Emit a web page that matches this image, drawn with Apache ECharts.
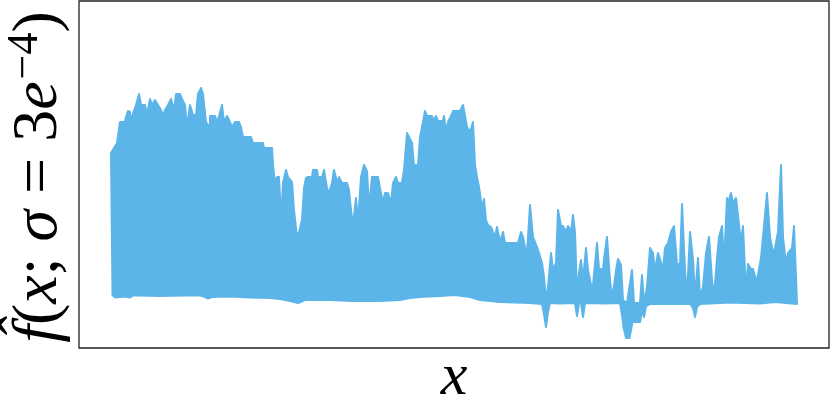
<!DOCTYPE html>
<html>
<head>
<meta charset="utf-8">
<script src="https://cdn.jsdelivr.net/npm/echarts@6/dist/echarts.min.js"></script>
<style>
  html, body { margin: 0; padding: 0; background: #fff; }
  #chart { width: 830px; height: 406px; }
</style>
</head>
<body>
<div id="chart"></div>
<script>
// Upper envelope of the oscillating estimate: sample position and value
var upperX = [0,3,6,9,14,15,17,19,20,21,25,28,30,34,36,39,41,44,47,50,52,54,57,60,63,65,69,71,74,76,79,82,85,87,90,92,95,97,98,99,104,106,108,111,113,116,119,121,124,128,130,132,140,142,152,153,161,162,164,166,168,170,172,175,177,181,183,186,188,191,193,195,197,201,202,206,207,211,213,216,218,221,223,226,228,231,236,238,240,242,245,247,250,253,256,258,261,267,269,272,274,277,280,282,285,287,291,293,296,298,301,303,307,309,312,314,316,321,322,325,327,332,333,335,337,340,342,349,352,354,356,359,362,364,366,368,371,373,375,377,380,382,384,386,389,392,394,407,410,412,414,416,419,422,424,426,428,431,433,435,437,440,442,445,447,450,452,455,457,460,462,464,466,468,470,472,475,477,480,482,486,488,492,493,496,499,501,503,505,507,510,512,516,521,523,529,531,533,536,539,542,544,547,549,552,554,557,560,563,566,569,571,574,576,579,582,584,587,589,592,595,598,601,603,606,608,611,613,616,617,620,622,625,627,630,632,635,637,640,642,645,647,650,653,656,659,662,664,667,670,672,675,677,681,683,686];
var upperY = [1.95,2.00,2.05,2.26,2.26,2.31,2.37,2.36,1.89,2.32,2.43,2.54,2.43,2.43,2.33,2.49,2.43,2.48,2.43,2.38,2.33,2.38,2.43,2.49,2.38,2.54,2.54,2.49,2.43,2.21,2.43,2.33,2.33,2.54,2.60,2.54,2.26,2.23,1.66,2.32,2.32,2.26,2.32,2.43,2.26,2.32,2.26,2.21,2.26,2.26,2.21,2.11,2.11,2.05,2.05,2.00,2.00,1.83,1.66,1.71,1.71,1.28,1.65,1.78,1.71,1.66,1.38,1.11,1.16,1.28,1.60,1.70,1.71,1.71,1.78,1.78,1.71,1.71,1.78,1.60,1.55,1.65,1.78,1.66,1.71,1.65,1.65,1.58,1.38,1.23,1.50,1.25,1.71,1.83,1.77,1.40,1.71,1.71,1.60,1.45,1.55,1.55,1.45,1.65,1.71,1.65,1.65,1.78,2.15,2.11,2.05,1.83,1.83,2.11,2.26,2.37,2.32,2.32,2.27,2.32,2.27,2.27,2.32,2.16,2.26,2.32,2.37,2.37,2.43,2.32,2.21,2.16,2.26,1.83,1.71,1.61,1.40,1.49,1.28,1.23,1.21,1.16,1.11,1.21,1.06,1.16,1.05,1.05,1.16,1.11,1.01,0.95,1.43,1.11,1.06,1.01,0.95,0.85,0.71,0.48,0.61,0.95,0.78,0.85,1.38,1.22,1.22,1.16,1.22,1.16,1.33,1.16,0.55,0.75,0.88,0.68,1.00,0.78,0.63,0.63,1.05,0.79,0.79,0.89,1.11,0.68,0.51,0.62,0.78,0.89,0.83,0.48,0.45,0.78,0.45,0.45,0.73,0.45,0.61,1.00,0.95,0.78,0.95,0.89,0.79,1.00,1.05,1.16,1.22,0.84,0.84,1.44,0.78,0.51,1.16,0.89,0.51,0.90,0.51,0.61,0.95,1.11,0.68,0.51,0.90,1.11,1.22,0.84,1.50,1.45,1.55,1.45,1.50,1.33,1.05,1.22,0.56,0.84,0.79,0.79,0.68,0.73,0.90,1.22,1.55,1.11,0.95,1.00,1.16,1.83,1.11,0.84,0.95,1.00,1.22,0.45];
// Lower envelope of the oscillating estimate
var lowerX = [1.5,4,9,14,19,22,29,49,74,89,94,97,101,119,139,159,169,179,187,194,219,241,269,289,299,309,329,344,359,369,389,419,431,433,435,437,439,449,464,466,468,470,472,474,494,509,511,512.5,515,518.5,520,521.5,529,531,533,535,539,579,582,584,586,589,619,649,664,686];
var lowerY = [0.53,0.505,0.51,0.515,0.505,0.525,0.525,0.52,0.525,0.525,0.51,0.495,0.51,0.515,0.505,0.50,0.49,0.47,0.45,0.48,0.48,0.47,0.47,0.48,0.50,0.51,0.52,0.53,0.51,0.48,0.46,0.45,0.44,0.34,0.21,0.36,0.45,0.445,0.45,0.32,0.45,0.45,0.31,0.45,0.445,0.45,0.33,0.21,0.10,0.10,0.18,0.26,0.26,0.38,0.31,0.42,0.44,0.44,0.40,0.31,0.41,0.44,0.455,0.445,0.46,0.44];
var xTitle = 'x';
var yTitle = '{m|f\u0302}{n|(}{m|x}{n|; }{m|σ}{n| = 3}{m|e}{s|\u22124}{n|)}';

var xMin = -32, xMax = 718, yMin = 0, yMax = 3.47;
var bandColor = '#5cb5e9';

var chart = echarts.init(document.getElementById('chart'), null, {renderer: 'canvas'});

var option = {
  animation: false,
  backgroundColor: '#fff',
  grid: {
    left: 79, right: 1, top: 1, bottom: 58,
    containLabel: false, outerBoundsMode: 'none',
    show: true, borderColor: '#222', borderWidth: 1.3, backgroundColor: 'transparent'
  },
  xAxis: {
    type: 'value', min: xMin, max: xMax,
    axisLine: {show: false}, axisTick: {show: false}, axisLabel: {show: false}, splitLine: {show: false}
  },
  yAxis: {
    type: 'value', min: yMin, max: yMax,
    axisLine: {show: false}, axisTick: {show: false}, axisLabel: {show: false}, splitLine: {show: false}
  },
  graphic: [
    {
      type: 'text', x: 454, y: 378,
      style: {text: xTitle, fontFamily: 'Liberation Serif', fontStyle: 'italic', fontSize: 60, fill: '#000',
              align: 'center', verticalAlign: 'middle'}
    },
    {
      type: 'text', x: 39, y: 177, rotation: Math.PI / 2,
      style: {
        text: yTitle, fontFamily: 'Liberation Serif', fontSize: 64, fill: '#000',
        align: 'center', verticalAlign: 'middle',
        rich: {
          m: {fontFamily: 'Liberation Serif', fontStyle: 'italic', fontSize: 64, fill: '#000'},
          n: {fontFamily: 'Liberation Serif', fontSize: 64, fill: '#000'},
          s: {fontFamily: 'Liberation Serif', fontSize: 44, fill: '#000', padding: [0, 0, 28, 2]}
        }
      }
    }
  ],
  series: [{
    type: 'custom',
    coordinateSystem: 'cartesian2d',
    data: [[0, 0]],
    clip: true,
    renderItem: function (params, api) {
      var pts = [];
      for (var i = 0; i < upperX.length; i++) pts.push(api.coord([upperX[i], upperY[i]]));
      for (var j = lowerX.length - 1; j >= 0; j--) pts.push(api.coord([lowerX[j], lowerY[j]]));
      return {
        type: 'polygon',
        shape: {points: pts},
        style: {fill: bandColor, stroke: bandColor, lineWidth: 2, lineJoin: 'round'}
      };
    }
  }]
};
chart.setOption(option);
</script>
</body>
</html>
